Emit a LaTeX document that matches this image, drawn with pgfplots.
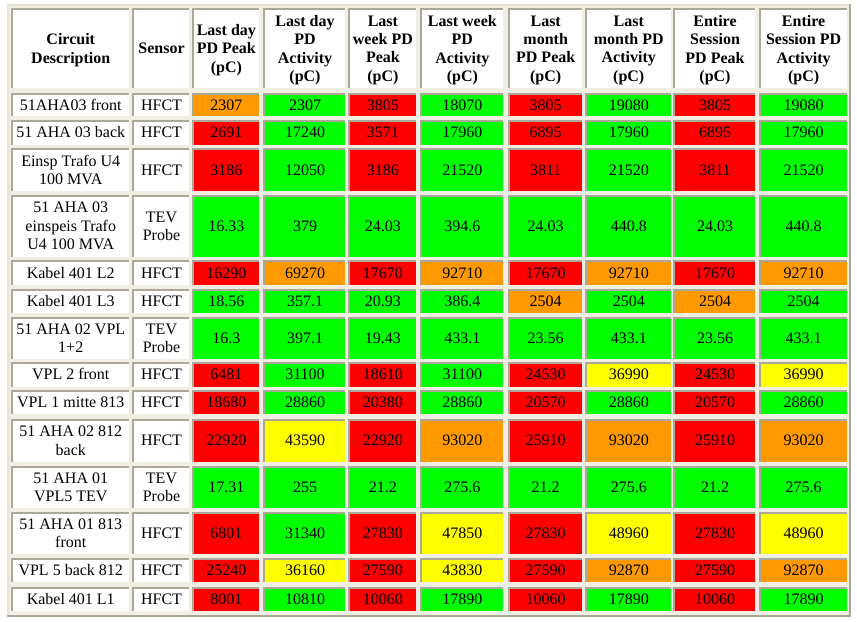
\documentclass[border=0pt]{standalone}
\usepackage{fontspec}
\setmainfont{Liberation Serif}
\usepackage{pgfplots}
\pgfplotsset{compat=1.18}
\definecolor{tbg}{HTML}{F1EFE4}
\definecolor{tlight}{HTML}{E6E3D1}
\definecolor{tshadow}{HTML}{ACA899}
\definecolor{cG}{HTML}{00FF00}
\definecolor{cR}{HTML}{FF0000}
\definecolor{cO}{HTML}{FF9900}
\definecolor{cY}{HTML}{FFFF00}
\definecolor{cW}{HTML}{FFFFFF}

% cell edges in pixels (left/right of each column, top/bottom of each row)
\def\colL{{11,132,192,263,348.3,420,507.7,585,673,758.7}}
\def\colR{{128.5,189,258.7,345,415.5,502.7,581.7,670.5,755,846.5}}
\def\rowT{{8.3,92.7,120,148,195,260.3,288.7,316.7,362,390.2,419,465.7,511.7,558.3,586.7}}
\def\rowB{{88,116.3,144.5,191,256.7,284.7,313,358.7,386.5,414.3,461.7,507.7,554,582.3,610.7}}

\newcommand\cfont{\fontsize{16bp}{18.4bp}\selectfont}
\newcommand\cs{\rule[-3.8bp]{0pt}{14.6bp}}

\pgfplotsset{
  cellbox/.style={draw=none,forget plot},
  celltext/.style={draw=none,mark=none,forget plot,
    every node near coord/.append style={anchor=center,align=center,
      inner sep=0pt,yshift=-1bp,font=\cfont,text=black}},
  hdr/.style={every node near coord/.append style={font=\cfont\bfseries}},
}

% \cell[extra]{col}{row}{colour}{text}
\newcommand\cell[5][]{%
  \pgfmathsetmacro\xa{\colL[#2-1]}%
  \pgfmathsetmacro\xb{\colL[#2-1]+2}%
  \pgfmathsetmacro\xc{\colR[#2-1]}%
  \pgfmathsetmacro\ya{\rowT[#3]}%
  \pgfmathsetmacro\yb{\rowT[#3]+2}%
  \pgfmathsetmacro\yc{\rowB[#3]}%
  \pgfmathsetmacro\xm{(\xb+\xc)/2}%
  \pgfmathsetmacro\ym{(\yb+\yc)/2}%
  \edef\tmp{%
    \noexpand\addplot[cellbox,fill=tshadow] coordinates {(\xa,\ya) (\xc,\ya) (\xc,\yc) (\xa,\yc)};
    \noexpand\addplot[cellbox,fill=#4] coordinates {(\xb,\yb) (\xc,\yb) (\xc,\yc) (\xb,\yc)};
    \noexpand\addplot[celltext,\unexpanded{#1},nodes near coords={\noexpand\cs\unexpanded{#5}\noexpand\cs}] coordinates {(\xm,\ym)};
  }\tmp}

\begin{document}
\begin{tikzpicture}
\begin{axis}[
  width=857bp, height=622bp, scale only axis,
  xmin=0, xmax=857, ymin=0, ymax=622,
  y dir=reverse, hide axis, clip=false,
]
% table frame
\addplot[cellbox,fill=white] coordinates {(0,0) (857,0) (857,622) (0,622)};
\addplot[cellbox,fill=tshadow] coordinates {(7,4) (851,4) (851,617) (7,617)};
\addplot[cellbox,fill=tlight] coordinates {(7,4) (849,4) (849,615) (7,615)};
\addplot[cellbox,fill=tbg] coordinates {(8.7,5.7) (849,5.7) (849,615) (8.7,615)};

% header
\cell[hdr]{1}{0}{cW}{Circuit\\Description}
\cell[hdr]{2}{0}{cW}{Sensor}
\cell[hdr]{3}{0}{cW}{Last day\\PD Peak\\(pC)}
\cell[hdr]{4}{0}{cW}{Last day\\PD\\Activity\\(pC)}
\cell[hdr]{5}{0}{cW}{Last\\week PD\\Peak\\(pC)}
\cell[hdr]{6}{0}{cW}{Last week\\PD\\Activity\\(pC)}
\cell[hdr]{7}{0}{cW}{Last\\month\\PD Peak\\(pC)}
\cell[hdr]{8}{0}{cW}{Last\\month PD\\Activity\\(pC)}
\cell[hdr]{9}{0}{cW}{Entire\\Session\\PD Peak\\(pC)}
\cell[hdr]{10}{0}{cW}{Entire\\Session PD\\Activity\\(pC)}

% row 1
\cell{1}{1}{cW}{51AHA03 front}\cell{2}{1}{cW}{HFCT}
\cell{3}{1}{cO}{2307}\cell{4}{1}{cG}{2307}\cell{5}{1}{cR}{3805}\cell{6}{1}{cG}{18070}
\cell{7}{1}{cR}{3805}\cell{8}{1}{cG}{19080}\cell{9}{1}{cR}{3805}\cell{10}{1}{cG}{19080}
% row 2
\cell{1}{2}{cW}{51 AHA 03 back}\cell{2}{2}{cW}{HFCT}
\cell{3}{2}{cR}{2691}\cell{4}{2}{cG}{17240}\cell{5}{2}{cR}{3571}\cell{6}{2}{cG}{17960}
\cell{7}{2}{cR}{6895}\cell{8}{2}{cG}{17960}\cell{9}{2}{cR}{6895}\cell{10}{2}{cG}{17960}
% row 3
\cell{1}{3}{cW}{Einsp Trafo U4\\100 MVA}\cell{2}{3}{cW}{HFCT}
\cell{3}{3}{cR}{3186}\cell{4}{3}{cG}{12050}\cell{5}{3}{cR}{3186}\cell{6}{3}{cG}{21520}
\cell{7}{3}{cR}{3811}\cell{8}{3}{cG}{21520}\cell{9}{3}{cR}{3811}\cell{10}{3}{cG}{21520}
% row 4
\cell{1}{4}{cW}{51 AHA 03\\einspeis Trafo\\U4 100 MVA}\cell{2}{4}{cW}{TEV\\Probe}
\cell{3}{4}{cG}{16.33}\cell{4}{4}{cG}{379}\cell{5}{4}{cG}{24.03}\cell{6}{4}{cG}{394.6}
\cell{7}{4}{cG}{24.03}\cell{8}{4}{cG}{440.8}\cell{9}{4}{cG}{24.03}\cell{10}{4}{cG}{440.8}
% row 5
\cell{1}{5}{cW}{Kabel 401 L2}\cell{2}{5}{cW}{HFCT}
\cell{3}{5}{cR}{16290}\cell{4}{5}{cO}{69270}\cell{5}{5}{cR}{17670}\cell{6}{5}{cO}{92710}
\cell{7}{5}{cR}{17670}\cell{8}{5}{cO}{92710}\cell{9}{5}{cR}{17670}\cell{10}{5}{cO}{92710}
% row 6
\cell{1}{6}{cW}{Kabel 401 L3}\cell{2}{6}{cW}{HFCT}
\cell{3}{6}{cG}{18.56}\cell{4}{6}{cG}{357.1}\cell{5}{6}{cG}{20.93}\cell{6}{6}{cG}{386.4}
\cell{7}{6}{cO}{2504}\cell{8}{6}{cG}{2504}\cell{9}{6}{cO}{2504}\cell{10}{6}{cG}{2504}
% row 7
\cell{1}{7}{cW}{51 AHA 02 VPL\\1+2}\cell{2}{7}{cW}{TEV\\Probe}
\cell{3}{7}{cG}{16.3}\cell{4}{7}{cG}{397.1}\cell{5}{7}{cG}{19.43}\cell{6}{7}{cG}{433.1}
\cell{7}{7}{cG}{23.56}\cell{8}{7}{cG}{433.1}\cell{9}{7}{cG}{23.56}\cell{10}{7}{cG}{433.1}
% row 8
\cell{1}{8}{cW}{VPL 2 front}\cell{2}{8}{cW}{HFCT}
\cell{3}{8}{cR}{6481}\cell{4}{8}{cG}{31100}\cell{5}{8}{cR}{18610}\cell{6}{8}{cG}{31100}
\cell{7}{8}{cR}{24530}\cell{8}{8}{cY}{36990}\cell{9}{8}{cR}{24530}\cell{10}{8}{cY}{36990}
% row 9
\cell{1}{9}{cW}{VPL 1 mitte 813}\cell{2}{9}{cW}{HFCT}
\cell{3}{9}{cR}{18680}\cell{4}{9}{cG}{28860}\cell{5}{9}{cR}{20380}\cell{6}{9}{cG}{28860}
\cell{7}{9}{cR}{20570}\cell{8}{9}{cG}{28860}\cell{9}{9}{cR}{20570}\cell{10}{9}{cG}{28860}
% row 10
\cell{1}{10}{cW}{51 AHA 02 812\\back}\cell{2}{10}{cW}{HFCT}
\cell{3}{10}{cR}{22920}\cell{4}{10}{cY}{43590}\cell{5}{10}{cR}{22920}\cell{6}{10}{cO}{93020}
\cell{7}{10}{cR}{25910}\cell{8}{10}{cO}{93020}\cell{9}{10}{cR}{25910}\cell{10}{10}{cO}{93020}
% row 11
\cell{1}{11}{cW}{51 AHA 01\\VPL5 TEV}\cell{2}{11}{cW}{TEV\\Probe}
\cell{3}{11}{cG}{17.31}\cell{4}{11}{cG}{255}\cell{5}{11}{cG}{21.2}\cell{6}{11}{cG}{275.6}
\cell{7}{11}{cG}{21.2}\cell{8}{11}{cG}{275.6}\cell{9}{11}{cG}{21.2}\cell{10}{11}{cG}{275.6}
% row 12
\cell{1}{12}{cW}{51 AHA 01 813\\front}\cell{2}{12}{cW}{HFCT}
\cell{3}{12}{cR}{6801}\cell{4}{12}{cG}{31340}\cell{5}{12}{cR}{27830}\cell{6}{12}{cY}{47850}
\cell{7}{12}{cR}{27830}\cell{8}{12}{cY}{48960}\cell{9}{12}{cR}{27830}\cell{10}{12}{cY}{48960}
% row 13
\cell{1}{13}{cW}{VPL 5 back 812}\cell{2}{13}{cW}{HFCT}
\cell{3}{13}{cR}{25240}\cell{4}{13}{cY}{36160}\cell{5}{13}{cR}{27590}\cell{6}{13}{cY}{43830}
\cell{7}{13}{cR}{27590}\cell{8}{13}{cO}{92870}\cell{9}{13}{cR}{27590}\cell{10}{13}{cO}{92870}
% row 14
\cell{1}{14}{cW}{Kabel 401 L1}\cell{2}{14}{cW}{HFCT}
\cell{3}{14}{cR}{8001}\cell{4}{14}{cG}{10810}\cell{5}{14}{cR}{10060}\cell{6}{14}{cG}{17890}
\cell{7}{14}{cR}{10060}\cell{8}{14}{cG}{17890}\cell{9}{14}{cR}{10060}\cell{10}{14}{cG}{17890}
\end{axis}
\end{tikzpicture}
\end{document}
